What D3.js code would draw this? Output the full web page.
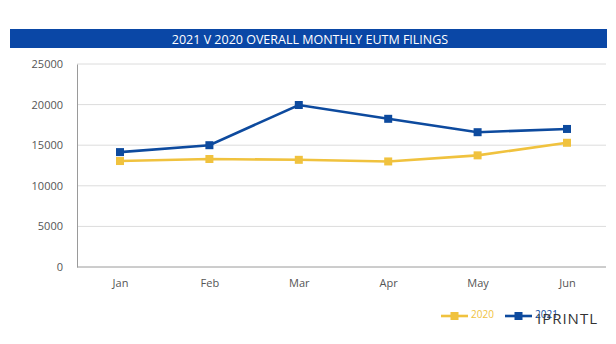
<!DOCTYPE html>
<html><head><meta charset="utf-8">
<script src="https://cdn.jsdelivr.net/npm/d3@7"></script>
<style>body{margin:0;background:#fff;}svg{display:block;font-family:"Open Sans",sans-serif;}</style>
</head><body>
<script>
const months = ["Jan","Feb","Mar","Apr","May","Jun"];
const values2020 = [13050, 13300, 13200, 13000, 13750, 15300];
const values2021 = [14150, 15000, 19950, 18250, 16600, 17000];
const yTicks = [0, 5000, 10000, 15000, 20000, 25000];
const seriesNames = ["2020", "2021"];
const title = "2021 V 2020 OVERALL MONTHLY EUTM FILINGS";

const W = 616, H = 344;
const svg = d3.select("body").append("svg").attr("width", W).attr("height", H);
const m = {left: 77, right: 606, top: 64, bottom: 267};
const colors = {"2020": "#f0c23e", "2021": "#0d4a9e"};

// title bar
svg.append("rect").attr("x", 10).attr("y", 29).attr("width", 597).attr("height", 19).attr("fill", "#0a47a6");
svg.append("text").attr("x", 310).attr("y", 43.5).attr("text-anchor", "middle").attr("fill", "#fff")
  .attr("font-size", 12.5).text(title);

const x = d3.scalePoint().domain(months).range([120, 567]);
const y = d3.scaleLinear().domain([0, 25000]).range([m.bottom, m.top]);

// gridlines
svg.append("g").selectAll("line").data(yTicks.slice(1)).join("line")
  .attr("x1", m.left).attr("x2", m.right).attr("y1", d => y(d)).attr("y2", d => y(d))
  .attr("stroke", "#dcdcdc").attr("stroke-width", 1);

// y axis
const ya = svg.append("g").attr("transform", `translate(${m.left},0)`)
  .call(d3.axisLeft(y).tickValues(yTicks).tickSize(0).tickPadding(14).tickFormat(d3.format("d")));
ya.select(".domain").attr("stroke", "#9a9a9a");
ya.selectAll("text").attr("font-size", 11).attr("fill", "#555").attr("font-family", "Open Sans, sans-serif");

// x axis
svg.append("line").attr("x1", m.left).attr("x2", m.right).attr("y1", m.bottom).attr("y2", m.bottom)
  .attr("stroke", "#9a9a9a");
const xa = svg.append("g").attr("transform", `translate(0,${m.bottom})`)
  .call(d3.axisBottom(x).tickSize(0).tickPadding(12));
xa.select(".domain").remove();
xa.selectAll("text").attr("font-size", 11).attr("fill", "#555").attr("font-family", "Open Sans, sans-serif");

const line = d3.line().x(d => x(d.m)).y(d => y(d.v));
const data = {
  "2020": months.map((mm, i) => ({m: mm, v: values2020[i]})),
  "2021": months.map((mm, i) => ({m: mm, v: values2021[i]}))
};
seriesNames.forEach(s => {
  svg.append("path").datum(data[s]).attr("d", line).attr("fill", "none")
    .attr("stroke", colors[s]).attr("stroke-width", 2.6);
  svg.append("g").selectAll("rect").data(data[s]).join("rect")
    .attr("x", d => x(d.m) - 4).attr("y", d => y(d.v) - 4).attr("width", 8).attr("height", 8)
    .attr("fill", colors[s]);
});

// legend
const leg = [{s: "2020", x: 441}, {s: "2021", x: 505}];
leg.forEach(l => {
  const g = svg.append("g");
  g.append("line").attr("x1", l.x).attr("x2", l.x + 27).attr("y1", 316).attr("y2", 316)
    .attr("stroke", colors[l.s]).attr("stroke-width", 2.6);
  g.append("rect").attr("x", l.x + 9.5).attr("y", 312).attr("width", 8).attr("height", 8).attr("fill", colors[l.s]);
  g.append("text").attr("x", l.x + 30).attr("y", 318).attr("font-size", 10).attr("fill", colors[l.s]).text(l.s);
});
// watermark
svg.append("text").attr("x", 598).attr("y", 324).attr("text-anchor", "end").attr("font-size", 15)
  .attr("fill", "#333").attr("letter-spacing", 1).text("IPRINTL");
</script>
</body></html>
